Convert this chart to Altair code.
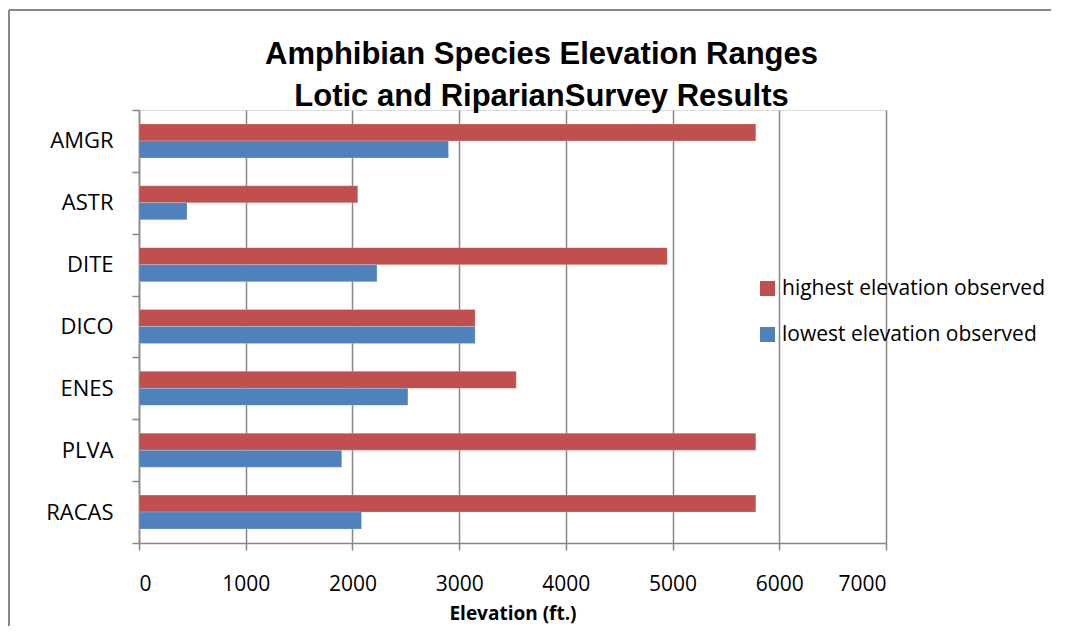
import altair as alt
import pandas as pd

species = ["AMGR", "ASTR", "DITE", "DICO", "ENES", "PLVA", "RACAS"]
highest = [5780, 2050, 4950, 3150, 3535, 5780, 5780]
lowest = [2900, 450, 2230, 3150, 2520, 1900, 2085]
series_names = ["highest elevation observed", "lowest elevation observed"]
x_ticks = [0, 1000, 2000, 3000, 4000, 5000, 6000, 7000]

rows = []
for s, h, l in zip(species, highest, lowest):
    rows.append({"species": s, "series": series_names[0], "elev": h})
    rows.append({"species": s, "series": series_names[1], "elev": l})
df = pd.DataFrame(rows)

FONT = "Open Sans"
W, H = 747, 433

bars = alt.Chart(df).mark_bar(stroke="white", strokeWidth=0.5, strokeOpacity=0.4).encode(
    x=alt.X("elev:Q",
            scale=alt.Scale(domain=[0, 7000], nice=False),
            axis=alt.Axis(values=x_ticks, title="Elevation (ft.)", grid=True,
                          gridColor="#868686", gridWidth=1.5,
                          domainColor="#868686", domainWidth=1.5,
                          tickColor="#868686", tickSize=7, tickWidth=1.5,
                          labelFontSize=21, labelFont=FONT, labelColor="#000000",
                          labelPadding=23, titleFont=FONT, titleFontSize=19,
                          titleFontWeight="bold", titleColor="#000000",
                          titlePadding=10, format="d")),
    y=alt.Y("species:N", sort=species,
            scale=alt.Scale(paddingInner=0, paddingOuter=0),
            axis=alt.Axis(title=None, tickBand="extent", domainColor="#868686",
                          domainWidth=1.5, tickColor="#868686", tickSize=7,
                          tickWidth=1.5, labelFontSize=22, labelFont=FONT,
                          labelColor="#000000", labelPadding=19)),
    yOffset=alt.YOffset("series:N", sort=series_names,
                        scale=alt.Scale(paddingOuter=0.82, paddingInner=0)),
    color=alt.Color("series:N", sort=series_names,
                    scale=alt.Scale(domain=series_names, range=["#C0504D", "#4F81BD"]),
                    legend=alt.Legend(title=None, orient="none", legendX=618, legendY=168,
                                      symbolType="square", symbolSize=225,
                                      symbolStrokeWidth=0, labelFontSize=21,
                                      labelFont=FONT, labelColor="#000000",
                                      rowPadding=24, labelOffset=4, labelLimit=400)),
)

frame_left = alt.Chart(pd.DataFrame({"k": [0]})).mark_rule(color="#868686", strokeWidth=2).encode(
    x=alt.value(-130), y=alt.value(-100), y2=alt.value(H + 120))
frame_top = alt.Chart(pd.DataFrame({"k": [0]})).mark_rule(color="#868686", strokeWidth=2).encode(
    y=alt.value(-100), x=alt.value(-130), x2=alt.value(W + 200))

chart = alt.layer(frame_left, frame_top, bars).properties(
    width=W, height=H,
    autosize=alt.AutoSizeParams(type="none"),
    padding={"left": 131, "top": 102, "right": 165, "bottom": 83},
    title=alt.TitleParams(
        text=["Amphibian Species Elevation Ranges", "Lotic and RiparianSurvey Results"],
        font="Liberation Sans Narrow, Liberation Sans", fontSize=31, fontWeight="bold",
        color="#000000", anchor="middle", dx=29, dy=100, lineHeight=42, offset=-4),
).configure_view(stroke=None).configure(background="white")

chart.save("out.html", embed_options={"renderer": "svg", "actions": False})
